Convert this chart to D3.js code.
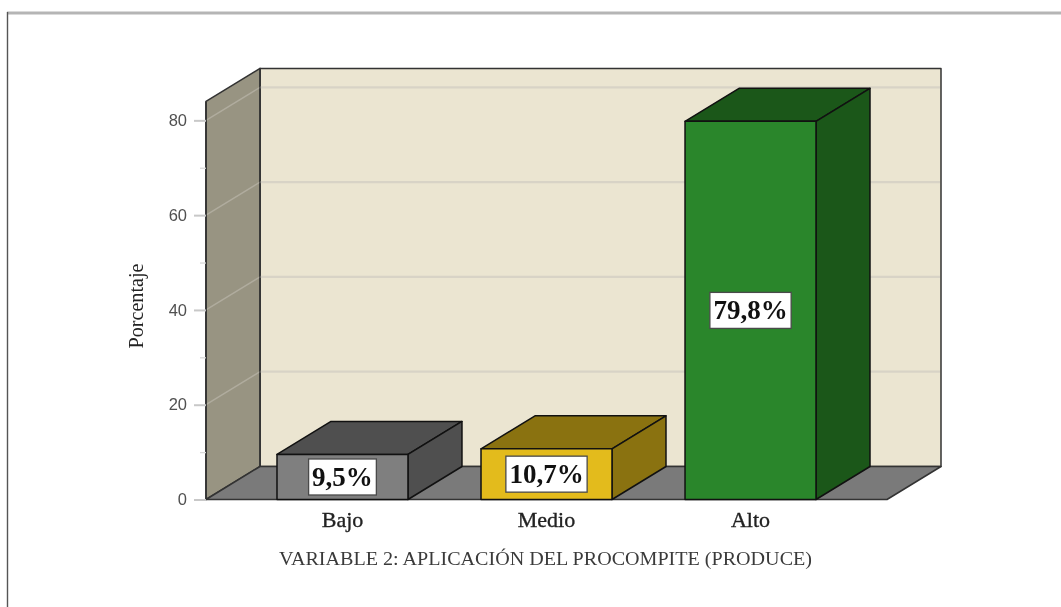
<!DOCTYPE html>
<html lang="en">
<head>
  <meta charset="UTF-8">
  <title>Variable 2</title>
  <script src="https://d3js.org/d3.v7.min.js"></script>
  <style>
    html, body { margin: 0; background: #fff; }
    svg { display: block; filter: blur(0.45px); }
  </style>
</head>
<body>
<svg width="1061" height="607"></svg>
<script>
  const categories = ["Bajo", "Medio", "Alto"];
  const values = [9.5, 10.7, 79.8];
  const valueLabels = ["9,5%", "10,7%", "79,8%"];
  const frontColors = ["#7f7f7f", "#e3bb1c", "#2a862b"];
  const sideColors = ["#4f4f4f", "#8a7210", "#1b5719"];
  const majorTicks = [0, 20, 40, 60, 80];
  const minorTicks = [10, 30, 50, 70];
  const gridValues = [20, 40, 60, 80];

  const svg = d3.select("svg");
  const serif = "'Liberation Serif', serif";

  // depth of the fake 3D box
  const dx = 54, dy = -33;

  const x = d3.scaleBand().domain(categories).range([206, 887])
    .paddingInner(0.358).paddingOuter(0.348);
  const y = d3.scaleLinear().domain([0, 84]).range([499.5, 101.4]);

  const poly = (pts, fill, stroke) => svg.append("polygon")
    .attr("points", pts.map(p => p.join(",")).join(" "))
    .attr("fill", fill)
    .attr("stroke", stroke || "none")
    .attr("stroke-width", 1.5)
    .attr("stroke-linejoin", "round");

  // page frame
  svg.append("line").attr("x1", 7).attr("x2", 1061).attr("y1", 13).attr("y2", 13)
    .attr("stroke", "#b5b5b5").attr("stroke-width", 3);
  svg.append("line").attr("x1", 7.5).attr("x2", 7.5).attr("y1", 12).attr("y2", 607)
    .attr("stroke", "#555").attr("stroke-width", 1.4);

  const wallL = 206, wallR = 887, wallT = y(84), base = y(0);

  // back wall, side wall, floor
  poly([[wallL + dx, wallT + dy], [wallR + dx, wallT + dy], [wallR + dx, base + dy], [wallL + dx, base + dy]], "#ebe5d1", "#333");
  poly([[wallL, wallT], [wallL + dx, wallT + dy], [wallL + dx, base + dy], [wallL, base]], "#989482", "#333");
  poly([[wallL, base], [wallL + dx, base + dy], [wallR + dx, base + dy], [wallR, base]], "#7a7a7a", "#333");

  // grid lines, faint on the side wall
  gridValues.forEach(v => {
    svg.append("line")
      .attr("x1", wallL).attr("y1", y(v)).attr("x2", wallL + dx).attr("y2", y(v) + dy)
      .attr("stroke", "#b0ac9e").attr("stroke-width", 1.4);
    svg.append("line")
      .attr("x1", wallL + dx).attr("y1", y(v) + dy).attr("x2", wallR + dx - 1).attr("y2", y(v) + dy)
      .attr("stroke", "#d8d3c6").attr("stroke-width", 2.2);
  });
  svg.append("line").attr("x1", wallL + dx).attr("x2", wallL + dx)
    .attr("y1", wallT + dy).attr("y2", base + dy).attr("stroke", "#333").attr("stroke-width", 1.5);
  svg.append("line").attr("x1", wallL).attr("x2", wallL)
    .attr("y1", wallT).attr("y2", base).attr("stroke", "#333").attr("stroke-width", 1.7);

  // y axis
  const axis = d3.axisLeft(y).tickValues(majorTicks).tickSize(12).tickPadding(7).tickFormat(d3.format("d"));
  const gy = svg.append("g").attr("transform", `translate(${wallL},0)`).call(axis);
  gy.select(".domain").remove();
  gy.selectAll("line").attr("stroke", "#c8c8c8").attr("stroke-width", 2);
  gy.selectAll("text")
    .attr("font-family", "'Liberation Sans', sans-serif")
    .attr("font-size", 16.5)
    .attr("fill", "#505050");
  const gyMinor = svg.append("g").attr("transform", `translate(${wallL},0)`)
    .call(d3.axisLeft(y).tickValues(minorTicks).tickSize(6).tickFormat(""));
  gyMinor.select(".domain").remove();
  gyMinor.selectAll("line").attr("stroke", "#d8d8d8").attr("stroke-width", 1.3);

  // bars
  categories.forEach((c, i) => {
    const x0 = x(c), x1 = x0 + x.bandwidth(), yt = y(values[i]);
    poly([[x0, yt], [x0 + dx, yt + dy], [x1 + dx, yt + dy], [x1, yt]], sideColors[i], "#111");
    poly([[x1, yt], [x1 + dx, yt + dy], [x1 + dx, base + dy], [x1, base]], sideColors[i], "#111");
    poly([[x0, yt], [x1, yt], [x1, base], [x0, base]], frontColors[i], "#111");
  });

  // value labels, white boxes sized from the text
  categories.forEach((c, i) => {
    const cx = x(c) + x.bandwidth() / 2;
    const cy = (y(values[i]) + base) / 2;
    const box = svg.append("rect").attr("fill", "#fff").attr("stroke", "#4a4a4a").attr("stroke-width", 1.3);
    const t = svg.append("text")
      .attr("x", cx).attr("y", cy + 9)
      .attr("text-anchor", "middle")
      .attr("font-family", serif)
      .attr("font-weight", "bold")
      .attr("font-size", 27)
      .attr("fill", "#111")
      .text(valueLabels[i]);
    const w = t.node().getComputedTextLength() + 7;
    box.attr("x", cx - w / 2).attr("width", w).attr("y", cy - 18).attr("height", 36);
  });

  // category labels
  svg.append("g").selectAll("text").data(categories).join("text")
    .attr("x", d => x(d) + x.bandwidth() / 2)
    .attr("y", 527)
    .attr("text-anchor", "middle")
    .attr("font-family", serif)
    .attr("font-size", 22)
    .attr("stroke", "#222")
    .attr("stroke-width", 0.35)
    .attr("fill", "#222")
    .text(d => d);

  svg.append("text")
    .attr("x", 545.5).attr("y", 565)
    .attr("text-anchor", "middle")
    .attr("font-family", serif)
    .attr("font-size", 18.5)
    .attr("textLength", 533)
    .attr("lengthAdjust", "spacingAndGlyphs")
    .attr("fill", "#3a3a3a")
    .text("VARIABLE 2: APLICACIÓN DEL PROCOMPITE (PRODUCE)");

  svg.append("text")
    .attr("transform", "translate(143,306) rotate(-90)")
    .attr("text-anchor", "middle")
    .attr("font-family", serif)
    .attr("font-size", 21)
    .attr("textLength", 85)
    .attr("lengthAdjust", "spacingAndGlyphs")
    .attr("fill", "#222")
    .text("Porcentaje");
</script>
</body>
</html>
